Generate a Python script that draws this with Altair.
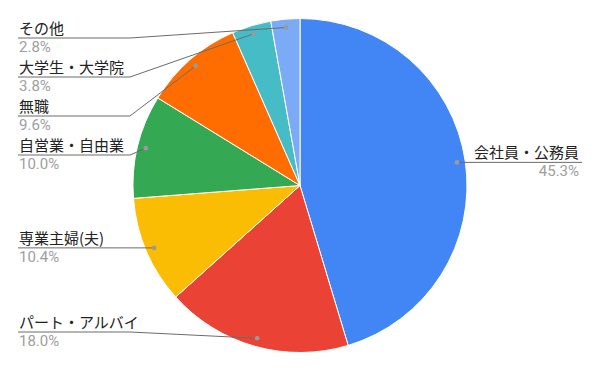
import math
import altair as alt
import pandas as pd

# ---- data ----
categories = ["会社員・公務員", "パート・アルバイ", "専業主婦(夫)", "自営業・自由業", "無職", "大学生・大学院", "その他"]
values = [45.3, 18.0, 10.4, 10.0, 9.6, 3.8, 2.8]
colors = ["#4285F4", "#EA4335", "#FBBC04", "#34A853", "#FF6D01", "#46BDC6", "#7BAAF7"]

# ---- layout constants ----
W, H = 600, 371
CX, CY, R = W / 2, H / 2, 167
DOT_R = 0.95 * R
LEFT_X, RIGHT_X = 18, 582
ELBOW_L, ELBOW_R = 130, 470
GAP, TOP, BOTTOM = 39, 38, 332

total = sum(values)
rows = []
cum = 0.0
for i, (c, v) in enumerate(zip(categories, values)):
    mid = (cum + v / 2) / total * 2 * math.pi
    cum += v
    dx = CX + DOT_R * math.sin(mid)
    dy = CY - DOT_R * math.cos(mid)
    rows.append(dict(idx=i, cat=c, value=v, pct=f"{v:.1f}%",
                     dx=dx, dy=dy, side="right" if math.sin(mid) > 0 else "left"))

# label stacking per side
for side in ("left", "right"):
    items = sorted([r for r in rows if r["side"] == side], key=lambda r: r["dy"])
    prev = None
    for r in items:
        ly = min(max(r["dy"], TOP), BOTTOM)
        if prev is not None:
            ly = max(ly, prev + GAP)
        r["ly"] = ly
        prev = ly

df = pd.DataFrame(rows)

line_rows = []
for r in rows:
    if r["side"] == "left":
        pts = [(LEFT_X, r["ly"]), (ELBOW_L, r["ly"]), (r["dx"], r["dy"])]
    else:
        pts = [(RIGHT_X, r["ly"]), (ELBOW_R, r["ly"]), (r["dx"], r["dy"])]
    for k, (x, y) in enumerate(pts):
        line_rows.append(dict(cat=r["cat"], k=k, x=x, y=y))
lines = pd.DataFrame(line_rows)

xs = alt.Scale(domain=[0, W], range=[0, W])
ys = alt.Scale(domain=[0, H], range=[0, H])
X = lambda f: alt.X(f, type="quantitative", scale=xs, axis=None)
Y = lambda f: alt.Y(f, type="quantitative", scale=ys, axis=None)

pie = alt.Chart(df).mark_arc(outerRadius=R, stroke="white", strokeWidth=1).encode(
    theta=alt.Theta("value:Q", stack=True),
    color=alt.Color("cat:N", scale=alt.Scale(domain=categories, range=colors), legend=None, sort=None),
    order=alt.Order("idx:Q"),
)

leader = alt.Chart(lines).mark_line(color="#6b6b6b", strokeWidth=1).encode(
    x=X("x"), y=Y("y"), detail="cat:N", order="k:Q"
)

dots = alt.Chart(df).mark_circle(size=22, color="#9a9a9a", opacity=1).encode(x=X("dx"), y=Y("dy"))

JP = "Noto Sans CJK JP"
PF = "Roboto"

def labels(side, align, xval):
    base = alt.Chart(df).transform_filter(alt.datum.side == side)
    name = base.mark_text(align=align, baseline="alphabetic", dy=-4, fontSize=15,
                          font=JP, color="#222222").encode(
        x=alt.value(xval), y=Y("ly"), text="cat:N")
    pct = base.mark_text(align=align, baseline="alphabetic", dy=14, fontSize=15,
                         font=PF, color="#9e9e9e").encode(
        x=alt.value(xval), y=Y("ly"), text="pct:N")
    return name + pct

chart = alt.layer(
    pie, leader, dots,
    labels("left", "left", 19),
    labels("right", "right", 579),
).properties(width=W, height=H, padding=0, autosize=alt.AutoSizeParams(type="none")
).configure_view(stroke=None)

chart.save("out.html", embed_options={"renderer": "svg", "actions": False})
